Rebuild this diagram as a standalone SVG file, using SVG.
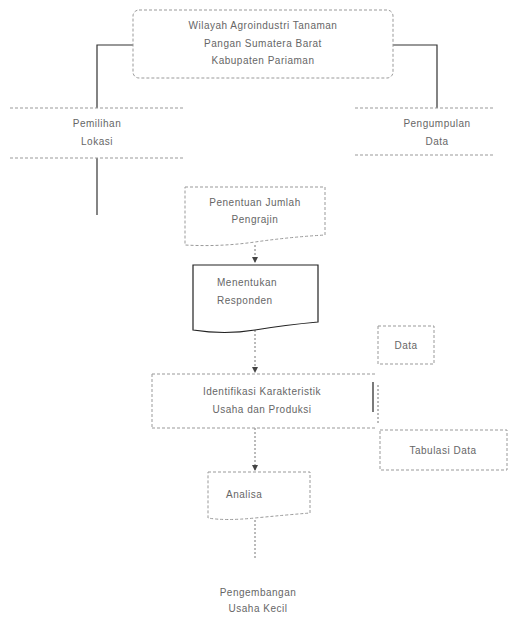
<svg xmlns="http://www.w3.org/2000/svg" width="523" height="623" viewBox="0 0 523 623">
<style>
text{font-family:"Liberation Sans",Arial,sans-serif;font-size:10px;fill:#666;letter-spacing:0.5px}
.c{text-anchor:middle}
.d{fill:none;stroke:#999;stroke-width:1;stroke-dasharray:3 2}
.s{fill:none;stroke:#222;stroke-width:1.2}
.l{fill:none;stroke:#333;stroke-width:1.2}
.ld{fill:none;stroke:#777;stroke-width:1;stroke-dasharray:2 2}
</style>
<defs>
<marker id="a" markerWidth="6" markerHeight="6" refX="5" refY="3" orient="auto"><path d="M0,0L6,3L0,6z" fill="#444"/></marker>
</defs>
<rect width="523" height="623" fill="#fff"/>
<g id="connectors">
<path class="l" d="M133,45H97V108"/>
<path class="l" d="M393,45H437V108"/>
<path class="l" d="M97,158V215"/>
<path class="ld" d="M255,245V262" marker-end="url(#a)"/>
<path class="ld" d="M255,330V352"/>
<path class="ld" d="M255,356V372" marker-end="url(#a)"/>
<path class="ld" d="M255,428V470" marker-end="url(#a)"/>
<path class="ld" d="M255,520V560"/>
<path class="ld" d="M378,385V425"/>
</g>
<g id="n1">
<rect class="d" x="133" y="10" width="260" height="68" rx="6"/>
<text class="c" x="263" y="29">Wilayah Agroindustri Tanaman</text>
<text class="c" x="263" y="47">Pangan Sumatera Barat</text>
<text class="c" x="263" y="64">Kabupaten Pariaman</text>
</g>
<g id="n2">
<path class="d" d="M10,108H185M10,158H185"/>
<text class="c" x="97" y="127">Pemilihan</text>
<text class="c" x="97" y="145">Lokasi</text>
</g>
<g id="n3">
<path class="d" d="M355,108H495M355,155H495"/>
<text class="c" x="437" y="127">Pengumpulan</text>
<text class="c" x="437" y="145">Data</text>
</g>
<g id="n4">
<path class="d" d="M185,187H325V235Q290,237 255,242T185,245Z"/>
<text class="c" x="255" y="206">Penentuan Jumlah</text>
<text class="c" x="255" y="223">Pengrajin</text>
</g>
<g id="n5">
<path class="s" d="M193,265H318V322Q285,325 255,330T193,330Z"/>
<text x="217" y="286">Menentukan</text>
<text x="217" y="304">Responden</text>
</g>
<g id="n6">
<rect class="d" x="378" y="326" width="56" height="38"/>
<text class="c" x="406" y="349">Data</text>
</g>
<g id="n7">
<path class="d" d="M152,374H375M152,428H375M152,374V428"/>
<path class="s" d="M373,382V412"/>
<text class="c" x="262" y="395">Identifikasi Karakteristik</text>
<text class="c" x="262" y="413">Usaha dan Produksi</text>
</g>
<g id="n8">
<path class="d" d="M380,430H507V470H380Z"/>
<text class="c" x="443" y="454">Tabulasi Data</text>
</g>
<g id="n9">
<path class="d" d="M208,472H310V513Q285,515 255,518T208,518Z"/>
<text x="226" y="498">Analisa</text>
</g>
<g id="n10">
<text class="c" x="258" y="596">Pengembangan</text>
<text class="c" x="258" y="612">Usaha Kecil</text>
</g>
</svg>
